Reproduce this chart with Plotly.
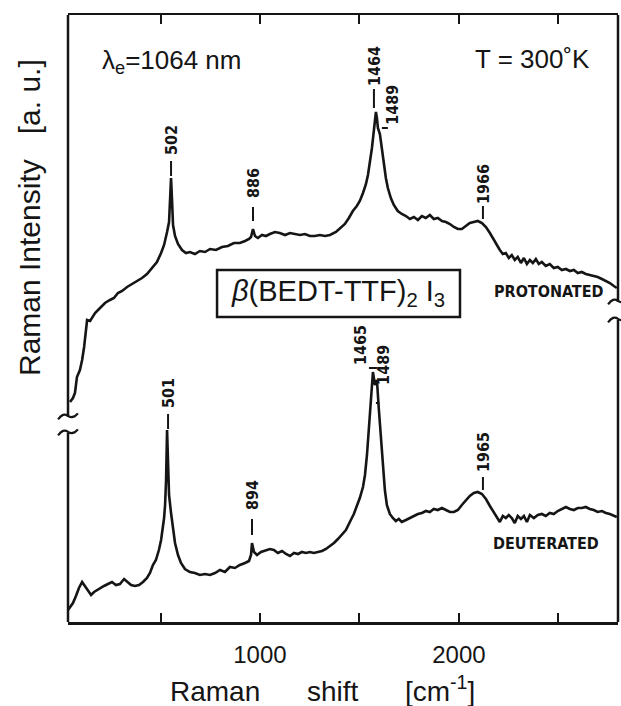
import plotly.graph_objects as go

# ---------------- data ----------------
shift_prot = [45, 60, 70, 80, 95, 106, 116, 126, 131, 146, 156, 171, 196, 221, 246, 266, 286, 307, 332, 357,
              382, 407, 432, 457, 482, 503, 518, 533, 543, 548, 553, 558, 563, 573, 588, 608, 628, 648, 673, 698,
              724, 749, 779, 809, 839, 869, 899, 925, 945, 955, 965, 975, 990, 1010, 1030, 1050, 1075, 1100, 1126, 1151,
              1176, 1201, 1226, 1251, 1276, 1301, 1327, 1352, 1382, 1407, 1427, 1447, 1467, 1487, 1502, 1518, 1533, 1543, 1553, 1563,
              1573, 1583, 1588, 1593, 1603, 1613, 1623, 1633, 1643, 1658, 1673, 1693, 1713, 1734, 1754, 1774, 1794, 1814, 1834, 1854,
              1874, 1894, 1915, 1935, 1955, 1975, 1995, 2015, 2035, 2055, 2075, 2095, 2116, 2136, 2156, 2176, 2191, 2206, 2221, 2236,
              2251, 2266, 2281, 2296, 2312, 2327, 2342, 2357, 2372, 2387, 2402, 2417, 2437, 2457, 2477, 2497, 2518, 2538, 2558, 2578,
              2598, 2618, 2638, 2658, 2678, 2698, 2719, 2739, 2759, 2779, 2794]
int_prot = [220, 224, 229, 245, 252, 262, 275, 292, 302, 301, 304, 309, 314, 319, 322, 324, 329, 331, 335, 338,
            341, 344, 348, 354, 360, 369, 377, 390, 400, 422, 444, 422, 397, 386, 378, 372, 369, 370, 368, 371,
            370, 373, 372, 375, 376, 379, 379, 381, 383, 385, 393, 386, 384, 387, 386, 388, 390, 389, 387, 389,
            388, 387, 388, 386, 386, 387, 386, 387, 390, 394, 398, 404, 411, 416, 421, 429, 438, 447, 459, 474,
            492, 510, 504, 494, 488, 472, 457, 444, 434, 424, 417, 411, 408, 406, 403, 405, 402, 406, 404, 407,
            403, 404, 401, 400, 398, 395, 393, 393, 396, 399, 400, 401, 399, 395, 389, 382, 377, 372, 368, 369,
            364, 367, 362, 365, 359, 364, 358, 362, 359, 363, 358, 360, 356, 358, 354, 355, 352, 353, 351, 352,
            349, 350, 348, 347, 346, 345, 343, 341, 339, 336, 334]

shift_deut = [35, 45, 60, 75, 90, 106, 121, 136, 151, 166, 181, 196, 216, 236, 256, 276, 296, 317, 332, 352,
              372, 392, 412, 432, 447, 462, 477, 492, 503, 513, 518, 523, 528, 533, 538, 543, 553, 563, 573, 588,
              603, 623, 648, 673, 698, 724, 749, 774, 799, 824, 849, 874, 899, 925, 945, 955, 960, 970, 985, 1005,
              1025, 1050, 1070, 1090, 1111, 1131, 1151, 1171, 1191, 1211, 1231, 1251, 1271, 1291, 1312, 1332, 1352, 1372, 1392, 1412,
              1432, 1452, 1472, 1487, 1502, 1518, 1528, 1538, 1548, 1558, 1568, 1578, 1588, 1598, 1608, 1618, 1628, 1638, 1653, 1668,
              1683, 1698, 1713, 1734, 1754, 1774, 1794, 1814, 1834, 1854, 1874, 1894, 1915, 1935, 1955, 1975, 1995, 2015, 2035, 2055,
              2075, 2095, 2116, 2136, 2156, 2176, 2191, 2206, 2221, 2236, 2251, 2266, 2281, 2296, 2312, 2327, 2342, 2357, 2377, 2397,
              2417, 2437, 2457, 2477, 2497, 2518, 2538, 2558, 2578, 2598, 2618, 2638, 2658, 2678, 2698, 2719, 2739, 2759, 2779, 2794]
int_deut = [12, 15, 19, 26, 34, 40, 36, 32, 27, 30, 32, 34, 36, 38, 40, 37, 38, 43, 40, 37,
            36, 37, 40, 44, 49, 57, 62, 72, 82, 95, 104, 117, 142, 192, 152, 127, 109, 92, 79, 67,
            59, 53, 50, 49, 47, 48, 47, 49, 52, 50, 55, 54, 57, 59, 61, 67, 79, 70, 67, 70,
            71, 73, 72, 69, 71, 68, 66, 69, 68, 70, 69, 70, 69, 70, 71, 73, 76, 79, 83, 87,
            92, 100, 108, 116, 124, 135, 147, 167, 192, 222, 250, 237, 242, 212, 182, 157, 132, 117, 108, 104,
            101, 103, 100, 102, 104, 106, 108, 109, 111, 110, 113, 112, 114, 112, 110, 110, 112, 117, 122, 126,
            129, 130, 128, 123, 116, 110, 105, 100, 106, 104, 107, 104, 99, 106, 103, 106, 100, 107, 104, 107,
            108, 106, 109, 108, 111, 113, 115, 113, 112, 114, 114, 115, 113, 112, 110, 111, 109, 108, 106, 105]

# peak labels
peak_labels = ["502", "886", "1464", "1489", "1966", "501", "894", "1465", "1489", "1965"]
peak_label_x = [553, 965, 1573, 1663, 2121, 538, 960, 1503, 1618, 2121]
peak_label_y = [482, 439, 556, 517, 438, 229, 127, 277, 257, 170]

# leader dashes next to the peak labels
dash_x0 = [553, 965, 1573, 2121, 538, 960, 2121, 1613, 1548, 1583]
dash_x1 = [553, 965, 1573, 2121, 538, 960, 2121, 1643, 1588, 1600]
dash_y0 = [461, 415, 533, 416, 208, 103, 145, 494, 254, 219]
dash_y1 = [446, 401, 514, 403, 193, 87, 132, 494, 254, 219]

label_tick_vals = [1000, 2000]
label_tick_text = ["1000", "2000"]
minor_tick_vals = [500, 1500, 2500]

X_RANGE = [35, 2800]
Y_RANGE = [0, 607]

# axis-break positions (intensity units)
left_break = [189, 205]
right_break = [302, 320]

INK = "#151515"
MAIN_FONT = "Liberation Sans, Arial, Helvetica, sans-serif"
LABEL_FONT = "DejaVu Sans Condensed, Liberation Sans Narrow, sans-serif"
NB = "\u00a0"

fig = go.Figure()
fig.add_trace(go.Scatter(x=shift_prot, y=int_prot, mode="lines",
                         line=dict(color=INK, width=2.6), showlegend=False, hoverinfo="skip"))
fig.add_trace(go.Scatter(x=shift_deut, y=int_deut, mode="lines",
                         line=dict(color=INK, width=2.6), showlegend=False, hoverinfo="skip"))

shapes = []
for x0, x1, y0, y1 in zip(dash_x0, dash_x1, dash_y0, dash_y1):
    shapes.append(dict(type="line", xref="x", yref="y", x0=x0, x1=x1, y0=y0, y1=y1,
                       line=dict(color=INK, width=2)))


def yp(v):
    return v / Y_RANGE[1]


# left and right frame lines with breaks
for xpos, brk in ((0, left_break), (1, right_break)):
    shapes.append(dict(type="line", xref="paper", yref="paper", x0=xpos, x1=xpos,
                       y0=0, y1=yp(brk[0]), line=dict(color=INK, width=2.5)))
    shapes.append(dict(type="line", xref="paper", yref="paper", x0=xpos, x1=xpos,
                       y0=yp(brk[1]), y1=1, line=dict(color=INK, width=2.5)))
    for b in brk:
        y = yp(b)
        d = 0.018
        path = (f"M {xpos - d},{y - 0.004} Q {xpos - d / 2},{y + 0.008} {xpos},{y + 0.002} "
                f"Q {xpos + d / 2},{y - 0.004} {xpos + d},{y + 0.006}")
        shapes.append(dict(type="path", xref="paper", yref="paper", path=path,
                           line=dict(color=INK, width=2.2)))

# compound label box
shapes.append(dict(type="rect", xref="paper", yref="paper", x0=0.271, x1=0.7127, y0=0.5025, y1=0.5799,
                   line=dict(color=INK, width=2.5), fillcolor="rgba(0,0,0,0)"))

annotations = []
for t, x, y in zip(peak_labels, peak_label_x, peak_label_y):
    annotations.append(dict(x=x, y=y, xref="x", yref="y", text=t, showarrow=False, textangle=-90,
                            xanchor="center", yanchor="middle",
                            font=dict(family=LABEL_FONT, size=16, color=INK, weight="bold")))

annotations += [
    dict(x=0.058, y=0.9226, xref="paper", yref="paper", text="λ<sub>e</sub>=1064 nm", showarrow=False,
         xanchor="left", yanchor="middle", font=dict(family=MAIN_FONT, size=26, color=INK)),
    dict(x=0.9527, y=0.9275, xref="paper", yref="paper", text="T = 300˚K", showarrow=False,
         xanchor="right", yanchor="middle", font=dict(family=MAIN_FONT, size=26, color=INK)),
    dict(x=0.491, y=0.542, xref="paper", yref="paper", text="<i>β</i>(BEDT-TTF)<sub>2</sub> I<sub>3</sub>",
         showarrow=False, xanchor="center", yanchor="middle", font=dict(family=MAIN_FONT, size=29, color=INK)),
    dict(x=0.8745, y=0.5453, xref="paper", yref="paper", text="PROTONATED", showarrow=False,
         xanchor="center", yanchor="middle", font=dict(family=LABEL_FONT, size=16, color=INK, weight="bold")),
    dict(x=0.869, y=0.130, xref="paper", yref="paper", text="DEUTERATED", showarrow=False,
         xanchor="center", yanchor="middle", font=dict(family=LABEL_FONT, size=16, color=INK, weight="bold")),
    dict(x=-0.069, y=0.6656, xref="paper", yref="paper",
         text="Raman Intensity" + NB * 3 + "[a." + NB + "u.]", showarrow=False, textangle=-90,
         xanchor="center", yanchor="middle", font=dict(family=MAIN_FONT, size=30, color=INK)),
    dict(x=0.4636, y=-0.111, xref="paper", yref="paper",
         text="Raman" + NB * 6 + "shift" + NB * 6 + "[cm<sup>-1</sup>]", showarrow=False,
         xanchor="center", yanchor="middle", font=dict(family=MAIN_FONT, size=28, color=INK)),
]

fig.update_layout(
    width=621, height=706,
    margin=dict(l=68, r=3, t=15, b=84),
    paper_bgcolor="white", plot_bgcolor="white",
    shapes=shapes, annotations=annotations,
    xaxis=dict(range=X_RANGE, showgrid=False, zeroline=False, showline=True, linecolor=INK, linewidth=2.5,
               mirror="ticks", ticks="inside", ticklen=9, tickwidth=2, tickcolor=INK,
               tickvals=label_tick_vals, ticktext=label_tick_text, ticklabelstandoff=10,
               tickfont=dict(family=MAIN_FONT, size=24, color=INK),
               minor=dict(tickvals=minor_tick_vals, ticks="inside", ticklen=9, tickwidth=2, tickcolor=INK)),
    yaxis=dict(range=Y_RANGE, showgrid=False, zeroline=False, showline=False, showticklabels=False, ticks=""),
)

# remove the browser's default body margin so the figure sits at the page origin
fig.write_html("out.html", config={"displayModeBar": False, "staticPlot": True},
               post_script="document.body.style.margin='0';document.body.style.overflow='hidden';")
